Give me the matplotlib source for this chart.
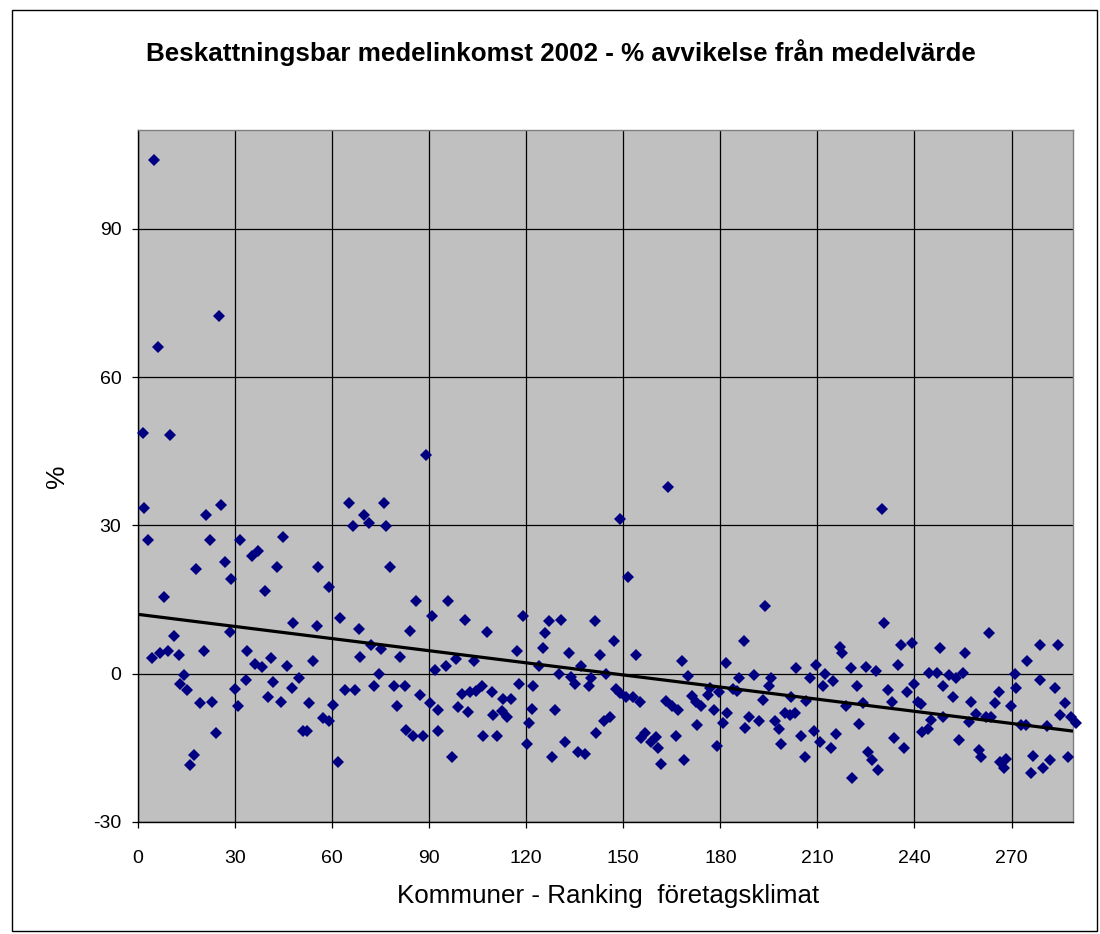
import numpy as np
import matplotlib
matplotlib.use("Agg")
import matplotlib.pyplot as plt
from matplotlib.patches import Rectangle

plt.rcParams['font.family'] = ['Liberation Sans', 'DejaVu Sans']
plt.rcParams['axes.unicode_minus'] = False

title = "Beskattningsbar medelinkomst 2002 - % avvikelse från medelvärde"
xlabel = "Kommuner - Ranking  företagsklimat"
ylabel = "%"
xticks = [0, 30, 60, 90, 120, 150, 180, 210, 240, 270]
yticks = [-30, 0, 30, 60, 90]

rank = [
    4.9, 6.2, 25, 1.4, 9.9, 89,
    2.0, 21, 25.8, 3.2, 22.2, 31.5, 27, 18, 28.8, 8.1, 28.3, 11.2, 20.3, 4.3,
    6.8, 9.4, 12.6, 14.3, 13, 15, 30, 19.2, 22.9, 30.8, 24.1, 17.3, 16.1,
    44.9, 35.1, 37.2, 43, 55.7, 58.9, 39.3, 48, 55.2, 33.8, 36.1, 38.2, 41.2,
    46.1, 54.1, 49.7, 47.5, 33.3, 41.8, 40.1, 44.2, 52.8, 60.3, 57.2, 59.1,
    50.9, 52.3, 61.8,
    65.2, 76.1, 70, 71.4, 66.3, 76.8, 77.9, 85.9, 90.8, 62.5, 68.3, 84.1, 71.9,
    75, 68.7, 81, 91.8, 74.4, 63.9, 67, 73, 79.1, 82.5, 87.1, 90.2, 79.9, 92.8,
    82.7, 85, 88, 92.8,
    95.7, 101.2, 119, 107.9, 117.2, 95.1, 98.2, 103.7, 117.8, 122.1, 100,
    102.6, 104.6, 106.2, 109.3, 112.9, 115.2, 98.8, 101.9, 109.8, 112.4, 114.2,
    121.8, 120.9, 106.7, 111.1, 120.1, 96.9,
    149.1, 151.5, 127.1, 130.6, 141.1, 125.7, 125.2, 147.1, 133.1, 142.9, 123.9,
    136.8, 130, 133.7, 140, 144.8, 135, 139.3, 147.6, 148.9, 150.8, 128.8, 144,
    146, 141.7, 131.9, 136, 138.3, 128.1,
    163.8, 153.8, 168, 170, 181.8, 153, 155.3, 163.1, 164.9, 167, 171.1, 172.4,
    174.1, 176.2, 176.9, 179.6, 177.9, 182, 180.8, 172.9, 166.2, 156.6, 155.6,
    158.7, 160.2, 160.7, 161.7, 168.7, 179.1,
    193.8, 187.2, 185.7, 190.4, 195.6, 195, 203.5, 209.7, 207.8, 183.9, 185.2,
    193.2, 201.7, 206.6, 211.7, 187.7, 188.9, 192, 196.8, 198.1, 199.9, 201.4,
    203, 204.8, 208.9, 210.7, 198.8, 206.1,
    229.9, 230.5, 216.9, 217.7, 235.9, 239.3, 234.9, 220.3, 225.1, 228.2, 212.2,
    214.8, 222.1, 231.8, 239.7, 237.8, 233, 224.1, 218.9, 241, 215.8, 214.1,
    222.8, 225.6, 226.8, 228.7, 220.8, 233.6, 236.7, 242.3,
    262.9, 247.8, 255.7, 244.5, 247, 250.6, 252.9, 254.9, 271, 248.8, 271.3,
    251.9, 266.1, 242, 257.5, 264.9, 269.9, 245.1, 248.8, 256.8, 258.9, 262.2,
    263.7, 244.1, 253.7, 259.9, 260.6, 266.5, 268.4, 267.8,
    278.9, 284.4, 274.7, 278.7, 283.4, 286.6, 284.9, 288.3, 289.8, 273, 274.6,
    281, 276.6, 275.9, 279.7, 282, 287.6,
]

deviation = [
    103.9, 66.1, 72.4, 48.7, 48.3, 44.3,
    33.6, 32.1, 34.1, 27.1, 27.1, 27.1, 22.6, 21.1, 19.1, 15.6, 8.5, 7.7, 4.6, 3.1,
    4.1, 4.6, 3.7, -0.3, -2.1, -3.3, -3.1, -6.0, -5.7, -6.6, -11.9, -16.5, -18.5,
    27.6, 23.9, 24.9, 21.5, 21.5, 17.6, 16.8, 10.2, 9.7, 4.5, 1.9, 1.3, 3.1,
    1.5, 2.6, -0.8, -2.8, -1.3, -1.7, -4.8, -5.7, -6.0, -6.4, -8.9, -9.5,
    -11.6, -11.6, -17.9,
    34.5, 34.5, 32.1, 30.5, 29.8, 29.8, 21.5, 14.8, 11.7, 11.2, 9.0, 8.6, 5.8,
    5.0, 3.4, 3.4, 0.7, -0.1, -3.3, -3.3, -2.5, -2.5, -2.5, -4.4, -6.0, -6.5, -7.3,
    -11.4, -12.6, -12.7, -11.6,
    14.7, 10.8, 11.6, 8.5, 4.6, 1.5, 2.9, 2.5, -2.1, -2.5, -4.1,
    -3.7, -3.5, -2.5, -3.6, -5.2, -5.2, -6.8, -7.7, -8.4, -7.5, -8.7,
    -7.2, -9.9, -12.7, -12.7, -14.3, -16.8,
    31.4, 19.6, 10.6, 10.8, 10.6, 8.2, 5.3, 6.6, 4.1, 3.7, 1.5,
    1.5, -0.1, -0.6, -0.8, -0.1, -2.1, -2.5, -3.1, -3.9, -4.8, -7.3, -9.5,
    -8.7, -11.9, -13.8, -15.8, -16.3, -16.8,
    37.7, 3.7, 2.6, -0.4, 2.1, -4.8, -5.7, -5.5, -6.6, -7.3, -4.5, -5.8,
    -6.6, -4.4, -2.8, -3.7, -7.3, -7.9, -10.0, -10.4, -12.7, -12.0, -13.1,
    -13.9, -12.9, -15.1, -18.3, -17.4, -14.7,
    13.6, 6.6, -0.8, -0.3, -0.8, -2.5, 1.1, 1.8, -0.9, -3.0, -3.5,
    -5.4, -4.8, -5.6, -2.5, -10.9, -8.7, -9.5, -9.5, -11.1, -8.0, -8.4,
    -8.0, -12.7, -11.6, -13.8, -14.3, -16.8,
    33.3, 10.2, 5.5, 4.1, 5.8, 6.2, 1.7, 1.1, 1.4, 0.6, -0.1,
    -1.5, -2.5, -3.3, -2.1, -3.7, -5.8, -6.0, -6.5, -5.7, -12.2, -15.1,
    -10.2, -15.8, -17.4, -19.5, -21.0, -13.1, -15.1, -11.8,
    8.2, 5.3, 4.1, 0.2, 0.2, -0.3, -0.8, 0.2, -0.1, -2.5, -2.8,
    -4.8, -3.7, -6.2, -5.7, -6.0, -6.5, -9.3, -8.7, -9.8, -8.2, -8.7,
    -8.7, -11.2, -13.5, -15.4, -16.8, -17.8, -17.3, -19.0,
    5.8, 5.8, 2.6, -1.3, -2.8, -6.0, -8.4, -8.7, -9.9, -10.4, -10.4,
    -10.6, -16.6, -20.1, -19.0, -17.4, -16.8,
]

W, H = 1100, 934
fig = plt.figure(figsize=(W / 100, H / 100), dpi=100)
fig.patch.set_facecolor('white')

# outer chart border
fig.patches.append(Rectangle((12 / W, 1 - 931 / H), (1097 - 12) / W, (931 - 10) / H,
                             transform=fig.transFigure, fill=False,
                             edgecolor='black', linewidth=1.0))

L, R, T, B = 138, 1073, 130, 822
ax = fig.add_axes([L / W, 1 - B / H, (R - L) / W, (B - T) / H])
ax.set_facecolor('#C0C0C0')
ax.set_xlim(0, 289)
ax.set_ylim(-30, 110)
ax.set_xticks(xticks)
ax.set_yticks(yticks)
ax.grid(True, color='black', linewidth=0.9)
ax.set_axisbelow(True)

x = np.array(rank)
y = np.array(deviation)
ax.plot(x, y, linestyle='none', marker='D', markersize=5.8,
        markerfacecolor='#000080', markeredgewidth=0, zorder=3, clip_on=False)

coef = np.polyfit(x, y, 1)
xl = np.array([0, 289])
ax.plot(xl, np.polyval(coef, xl), color='black', linewidth=2.3, zorder=4,
        solid_capstyle='butt')

for s in ['top', 'right']:
    ax.spines[s].set_color('#808080')
    ax.spines[s].set_linewidth(1.0)
for s in ['left', 'bottom']:
    ax.spines[s].set_color('black')
    ax.spines[s].set_linewidth(1.0)

ax.tick_params(axis='x', length=4, width=0.9, pad=16, labelsize=14, direction='out')
ax.tick_params(axis='y', length=4, width=0.9, pad=8, labelsize=14, direction='out')

fig.text(561 / W, 1 - 53 / H, title, ha='center', va='center',
         fontsize=18.7, fontweight='bold')
fig.text(608 / W, 1 - 896 / H, xlabel, ha='center', va='center', fontsize=18.7)
fig.text(57 / W, 1 - 476 / H, ylabel, ha='center', va='center', fontsize=19,
         rotation=90)

fig.savefig('out.png', dpi=100)
